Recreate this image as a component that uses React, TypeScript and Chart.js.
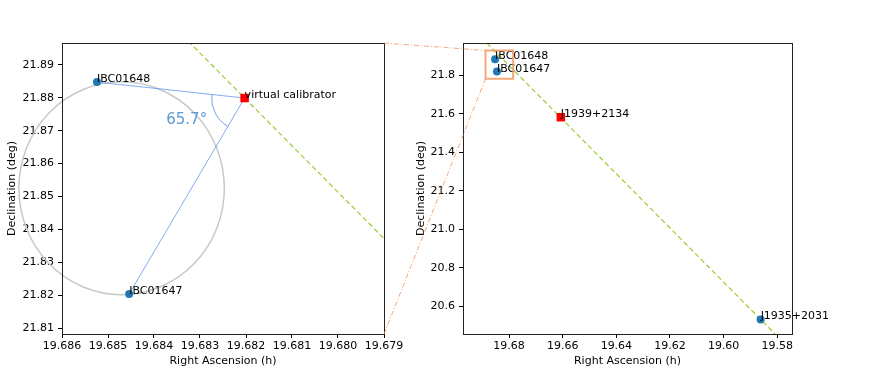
import React, { useEffect, useRef } from 'react';
import { Chart, registerables } from 'chart.js';

Chart.register(...registerables);

// ---------- data ----------
const calibratorNames = ['IBC01648', 'IBC01647'];
const calibratorRA = [19.68524, 19.68454];
const calibratorDec = [21.88475, 21.82044];

const virtualName = 'virtual calibrator';
const virtualRA = 19.68203;
const virtualDec = 21.8799;

const targetName = 'J1939+2134';
const targetRA = 19.66071;
const targetDec = 21.583;

const refName = 'J1935+2031';
const refRA = 19.5862;
const refDec = 20.5317;

const angleLabel = '65.7°';

const circleCenter = [19.684704, 21.85253]; // RA (h), Dec (deg)
const circleRadius = [0.002233, 0.03231]; // RA (h), Dec (deg)

const zoomBoxRA = [19.6888, 19.6785];
const zoomBoxDec = [21.783, 21.93];

const leftXRange = [19.679, 19.686];
const leftYRange = [21.8083, 21.8966];
const rightXRange = [19.5745, 19.6972];
const rightYRange = [20.456, 21.969];

const leftXTicks = [19.686, 19.685, 19.684, 19.683, 19.682, 19.681, 19.68, 19.679];
const leftYTicks = [21.81, 21.82, 21.83, 21.84, 21.85, 21.86, 21.87, 21.88, 21.89];
const rightXTicks = [19.68, 19.66, 19.64, 19.62, 19.6, 19.58];
const rightYTicks = [20.6, 20.8, 21.0, 21.2, 21.4, 21.6, 21.8];

const xTitle = 'Right Ascension (h)';
const yTitle = 'Declination (deg)';

// ---------- styling ----------
const W = 872;
const H = 376;
const FONT = 'DejaVu Sans';
const DOT = '#1f77b4';
const LINK = '#6495ed';
const GUIDE = '#9acd32';
const ZOOM = 'rgba(240,140,80,0.75)';

function makeScale(
  range: number[],
  ticks: number[],
  decimals: number,
  title: string,
  horizontal: boolean,
  fit: number,
  titlePad: number
) {
  return {
    type: 'linear',
    min: range[0],
    max: range[1],
    reverse: horizontal,
    afterBuildTicks: (s: any) => {
      s.ticks = ticks.map((v) => ({ value: v }));
    },
    afterFit: (s: any) => {
      if (horizontal) s.height = fit;
      else s.width = fit;
    },
    ticks: {
      color: '#000',
      font: { family: FONT, size: 11 },
      padding: horizontal ? 2 : 4,
      autoSkip: false,
      maxRotation: 0,
      callback: (v: any) => Number(v).toFixed(decimals),
    },
    grid: {
      display: true,
      drawOnChartArea: false,
      drawTicks: true,
      tickLength: 4,
      tickColor: '#000',
      tickWidth: 1,
    },
    border: { display: true, color: '#222', width: 1 },
    title: {
      display: true,
      text: title,
      color: '#000',
      font: { family: FONT, size: 11 },
      padding: horizontal ? { top: 0, bottom: 8 } : { top: titlePad, bottom: 0 },
    },
  };
}

const frame = {
  id: 'frame',
  afterDraw(chart: any) {
    const { ctx, chartArea: a } = chart;
    ctx.save();
    ctx.strokeStyle = '#222';
    ctx.lineWidth = 1;
    ctx.strokeRect(Math.round(a.left) + 0.5, Math.round(a.top) + 0.5, Math.round(a.right - a.left), Math.round(a.bottom - a.top));
    ctx.restore();
  },
};

const guideLine = {
  id: 'guideLine',
  beforeDatasetsDraw(chart: any) {
    const { ctx, chartArea: a, scales } = chart;
    const x = scales.x;
    const y = scales.y;
    const p1 = [x.getPixelForValue(virtualRA), y.getPixelForValue(virtualDec)];
    const p2 = [x.getPixelForValue(refRA), y.getPixelForValue(refDec)];
    const dx = p2[0] - p1[0];
    const dy = p2[1] - p1[1];
    const len = Math.hypot(dx, dy);
    const ux = dx / len;
    const uy = dy / len;
    ctx.save();
    ctx.beginPath();
    ctx.rect(a.left, a.top, a.right - a.left, a.bottom - a.top);
    ctx.clip();
    ctx.beginPath();
    ctx.moveTo(p1[0] - ux * 6000, p1[1] - uy * 6000);
    ctx.lineTo(p1[0] + ux * 6000, p1[1] + uy * 6000);
    ctx.setLineDash([5, 3]);
    ctx.strokeStyle = GUIDE;
    ctx.lineWidth = 1.2;
    ctx.stroke();
    ctx.restore();
  },
};

function labelPlugin(items: { ra: number; dec: number; text: string }[]) {
  return {
    id: 'labels',
    afterDraw(chart: any) {
      const { ctx, scales } = chart;
      ctx.save();
      ctx.fillStyle = '#000';
      ctx.font = `11px "${FONT}"`;
      ctx.textAlign = 'left';
      ctx.textBaseline = 'alphabetic';
      items.forEach((it) => {
        ctx.fillText(it.text, scales.x.getPixelForValue(it.ra), scales.y.getPixelForValue(it.dec));
      });
      ctx.restore();
    },
  };
}

const circlePlugin = {
  id: 'circle',
  beforeDatasetsDraw(chart: any) {
    const { ctx, scales } = chart;
    const cx = scales.x.getPixelForValue(circleCenter[0]);
    const cy = scales.y.getPixelForValue(circleCenter[1]);
    const rx = Math.abs(scales.x.getPixelForValue(circleCenter[0] + circleRadius[0]) - cx);
    const ry = Math.abs(scales.y.getPixelForValue(circleCenter[1] + circleRadius[1]) - cy);
    ctx.save();
    ctx.beginPath();
    ctx.ellipse(cx, cy, rx, ry, 0, 0, Math.PI * 2);
    ctx.strokeStyle = '#c8c8c8';
    ctx.lineWidth = 1.5;
    ctx.stroke();
    ctx.restore();
  },
};

const anglePlugin = {
  id: 'angle',
  afterDatasetsDraw(chart: any) {
    const { ctx, scales } = chart;
    const vx = scales.x.getPixelForValue(virtualRA);
    const vy = scales.y.getPixelForValue(virtualDec);
    const a = calibratorRA.map((ra, i) =>
      Math.atan2(scales.y.getPixelForValue(calibratorDec[i]) - vy, scales.x.getPixelForValue(ra) - vx)
    );
    let diff = a[0] - a[1];
    while (diff > Math.PI) diff -= 2 * Math.PI;
    while (diff <= -Math.PI) diff += 2 * Math.PI;
    const start = diff > 0 ? a[1] : a[0];
    const span = Math.abs(diff);
    const r = 33;
    ctx.save();
    ctx.beginPath();
    ctx.arc(vx, vy, r, start, start + span);
    ctx.strokeStyle = LINK;
    ctx.lineWidth = 0.9;
    ctx.stroke();
    const mid = start + span / 2 + 0.1;
    ctx.fillStyle = '#5b9bd5';
    ctx.font = `15px "${FONT}"`;
    ctx.textAlign = 'center';
    ctx.textBaseline = 'middle';
    ctx.fillText(angleLabel, vx + Math.cos(mid) * 62, vy + Math.sin(mid) * 62);
    ctx.restore();
  },
};

export default function App() {
  const leftRef = useRef<HTMLCanvasElement>(null);
  const rightRef = useRef<HTMLCanvasElement>(null);

  useEffect(() => {
    const calPoints = calibratorRA.map((ra, i) => ({ x: ra, y: calibratorDec[i] }));
    const vcPoint = { x: virtualRA, y: virtualDec };

    const left = new Chart(leftRef.current as HTMLCanvasElement, {
      type: 'scatter',
      data: {
        datasets: [
          { data: calPoints, backgroundColor: DOT, borderWidth: 0, pointRadius: 4 },
          { data: [vcPoint], backgroundColor: '#ff0000', borderWidth: 0, pointRadius: 6, pointStyle: 'rect' },
          ...calPoints.map((p) => ({
            data: [vcPoint, p],
            showLine: true,
            borderColor: LINK,
            borderWidth: 0.8,
            pointRadius: 0,
          })),
        ] as any,
      },
      options: {
        animation: false,
        responsive: false,
        devicePixelRatio: 1,
        layout: { padding: { left: 0, right: W - 384, top: 43, bottom: 0 } },
        plugins: { legend: { display: false }, tooltip: { enabled: false } },
        scales: {
          x: makeScale(leftXRange, leftXTicks, 3, xTitle, true, 42, 0),
          y: makeScale(leftYRange, leftYTicks, 2, yTitle, false, 62, 6),
        } as any,
      },
      plugins: [
        circlePlugin,
        guideLine,
        anglePlugin,
        frame,
        labelPlugin([
          ...calibratorNames.map((n, i) => ({ ra: calibratorRA[i], dec: calibratorDec[i], text: n })),
          { ra: virtualRA, dec: virtualDec, text: virtualName },
        ]),
      ],
    });

    const zoomPlugin = {
      id: 'zoomBox',
      afterDraw(chart: any) {
        const { ctx, scales } = chart;
        const x0 = scales.x.getPixelForValue(zoomBoxRA[0]);
        const x1 = scales.x.getPixelForValue(zoomBoxRA[1]);
        const yTop = scales.y.getPixelForValue(zoomBoxDec[1]);
        const yBot = scales.y.getPixelForValue(zoomBoxDec[0]);
        ctx.save();
        ctx.strokeStyle = ZOOM;
        ctx.lineWidth = 2;
        ctx.strokeRect(x0, yTop, x1 - x0, yBot - yTop);
        const la = left.chartArea;
        ctx.lineWidth = 1;
        ctx.setLineDash([5, 2, 1, 2]);
        ctx.beginPath();
        ctx.moveTo(la.right, la.top);
        ctx.lineTo(x0, yTop);
        ctx.moveTo(la.right, la.bottom);
        ctx.lineTo(x0, yBot);
        ctx.stroke();
        ctx.restore();
      },
    };

    const right = new Chart(rightRef.current as HTMLCanvasElement, {
      type: 'scatter',
      data: {
        datasets: [
          {
            data: [...calPoints, { x: refRA, y: refDec }],
            backgroundColor: DOT,
            borderWidth: 0,
            pointRadius: 4,
          },
          {
            data: [{ x: targetRA, y: targetDec }],
            backgroundColor: '#ff0000',
            borderWidth: 0,
            pointRadius: 6,
            pointStyle: 'rect',
          },
        ] as any,
      },
      options: {
        animation: false,
        responsive: false,
        devicePixelRatio: 1,
        layout: { padding: { left: 400, right: W - 792, top: 43, bottom: 0 } },
        plugins: { legend: { display: false }, tooltip: { enabled: false } },
        scales: {
          x: makeScale(rightXRange, rightXTicks, 2, xTitle, true, 42, 0),
          y: makeScale(rightYRange, rightYTicks, 1, yTitle, false, 63, 15),
        } as any,
      },
      plugins: [
        guideLine,
        frame,
        labelPlugin([
          ...calibratorNames.map((n, i) => ({ ra: calibratorRA[i], dec: calibratorDec[i], text: n })),
          { ra: targetRA, dec: targetDec, text: targetName },
          { ra: refRA, dec: refDec, text: refName },
        ]),
        zoomPlugin,
      ],
    });

    return () => {
      right.destroy();
      left.destroy();
    };
  }, []);

  const cs: React.CSSProperties = { position: 'absolute', left: 0, top: 0, width: W, height: H };
  return (
    <div style={{ position: 'absolute', left: 0, top: 0, width: W, height: H, background: '#fff' }}>
      <canvas ref={leftRef} width={W} height={H} style={cs} />
      <canvas ref={rightRef} width={W} height={H} style={cs} />
    </div>
  );
}
